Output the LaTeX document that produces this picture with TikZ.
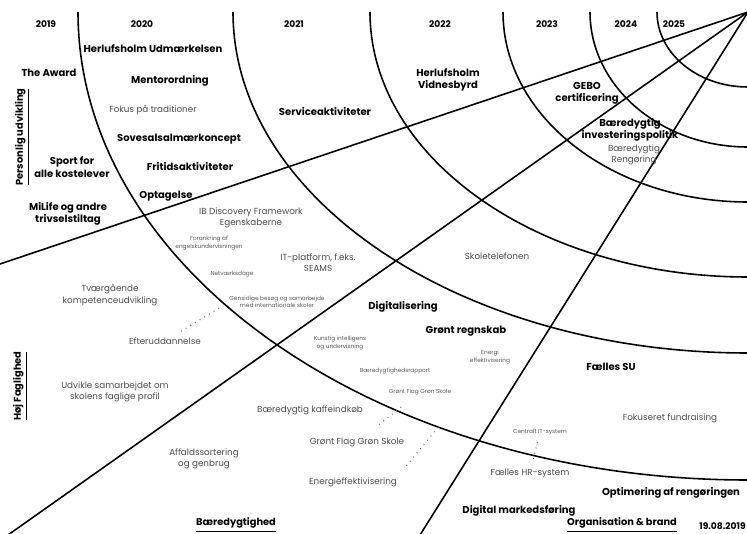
\documentclass[tikz,border=0pt]{standalone}
\usepackage{fontspec}
\setmainfont{Poppins}
\usetikzlibrary{calc}

\begin{document}
\begin{tikzpicture}[
  x=0.02cm, y=-0.02cm,
  every node/.style={inner sep=0pt, align=center},
  ring/.style={line width=0.9pt},
  spoke/.style={line width=0.9pt},
  year/.style={font=\fontsize{5.2}{6}\selectfont\bfseries},
  milestone/.style={font=\fontsize{5.7}{7}\selectfont\bfseries},
  idea/.style={font=\fontsize{5}{6.4}\selectfont, text=black!70},
  tiny/.style={font=\fontsize{3.3}{4.2}\selectfont, text=black!65},
  theme/.style={font=\fontsize{5.6}{6.4}\selectfont\bfseries},
  link/.style={dash pattern=on 0.5pt off 2.6pt, line width=0.6pt, black!60}
]
\useasboundingbox (0,0) rectangle (747,534);

% hub of the target (top right corner)
\coordinate (hub) at (748,12);

% yearly rings, outer to inner
\draw[ring] (78,12)  arc[start angle=180, end angle=90, x radius=670, y radius=468];
\draw[ring] (233,12) arc[start angle=180, end angle=90, x radius=515, y radius=341];
\draw[ring] (370,12) arc[start angle=180, end angle=90, x radius=378, y radius=265];
\draw[ring] (503,12) arc[start angle=180, end angle=90, x radius=245, y radius=190];
\draw[ring] (590,12) arc[start angle=180, end angle=90, x radius=158, y radius=135];
\draw[ring] (657,12) arc[start angle=180, end angle=90, x radius=91, y radius=75];

% sector borders
\coordinate (edgeP) at (0,264);
\coordinate (edgeH) at (8,535);
\coordinate (edgeB) at (420,535);
\draw[spoke] (hub) -- (edgeP);
\draw[spoke] (hub) -- (edgeH);
\draw[spoke] (hub) -- (edgeB);

% years
\node[year] (y19) at (46,24) {2019};
\node[year] (y20) at (142,24) {2020};
\node[year] (y21) at (294,24) {2021};
\node[year] (y22) at (440,24) {2022};
\node[year] (y23) at (547,24) {2023};
\node[year] (y24) at (626,24) {2024};
\node[year] (y25) at (674,24) {2025};

% Personlig udvikling
\node[milestone] (udm) at (153,49) {Herlufsholm Udmærkelsen};
\node[milestone] (award) at (49,73) {The Award};
\node[milestone] (mentor) at (170,81) {Mentorordning};
\node[idea] (trad) at (153,110) {Fokus på traditioner};
\node[milestone] (sovesal) at (179,139) {Sovesalsalmærkoncept};
\node[milestone] (sport) at (72,167) {Sport for\\alle kostelever};
\node[milestone] (fritid) at (190,167) {Fritidsaktiviteter};
\node[milestone] (optag) at (166,196) {Optagelse};
\node[milestone] (milife) at (68,214) {MiLife og andre\\trivselstiltag};
\node[milestone] (service) at (325,112) {Serviceaktiviteter};
\node[milestone] (vidnes) at (448,80) {Herlufsholm\\Vidnesbyrd};
\node[milestone] (gebo) at (587,93) {GEBO\\certificering};
\node[milestone] (invest) at (630,130) {Bæredygtig\\investeringspolitik};
\node[idea] (rengor) at (634,155) {Bæredygtig\\Rengøring};

% Høj faglighed
\node[idea] (discov) at (251,218) {IB Discovery Framework\\Egenskaberne};
\node[tiny] (forank) at (209,243) {Forankring af\\engelskundervisningen};
\node[idea] (itplat) at (318,263) {IT-platform, f.eks.\\SEAMS};
\node[tiny] (netv) at (232,274) {Netværksdage};
\node[tiny] (gensid) at (277,302) {Gensidige besøg og samarbejde\\med internationale skoler};
\node[idea] (salg) at (497,256) {Skoletelefonen};
\node[idea] (tvaer) at (110,295) {Tværgående\\kompetenceudvikling};
\node[idea] (efter) at (165,341) {Efteruddannelse};
\node[idea] (udvikle) at (115,392) {Udvikle samarbejdet om\\skolens faglige profil};
\node[milestone] (digital) at (403,307) {Digitalisering};
\node[tiny] (kunstig) at (340,343) {Kunstig intelligens\\og undervisning};

% Bæredygtighed
\node[milestone] (regnskab) at (466,331) {Grønt regnskab};
\node[tiny] (energi) at (490,357) {Energi\\effektivisering};
\node[tiny] (rapport) at (395,371) {Bæredygtighedsrapport};
\node[tiny] (flagA) at (420,392) {Grønt Flag Grøn Skole};
\node[idea] (kaffe) at (310,410) {Bæredygtig kaffeindkøb};
\node[idea] (flagB) at (357,442) {Grønt Flag Grøn Skole};
\node[idea] (affald) at (204,459) {Affaldssortering\\og genbrug};
\node[idea] (effekt) at (353,482) {Energieffektivisering};

% Organisation & brand
\node[milestone] (su) at (611,367) {Fælles SU};
\node[idea] (fond) at (670,418) {Fokuseret fundraising};
\node[tiny] (central) at (540,432) {Centralt IT-system};
\node[idea] (hr) at (530,473) {Fælles HR-system};
\node[milestone] (rengoring) at (671,493) {Optimering af rengøringen};
\node[milestone] (markt) at (519,511) {Digital markedsføring};

% sector titles
\node[theme, rotate=90] (tPers) at (22,137) {\underline{Personlig udvikling}};
\node[theme, rotate=90] (tFag) at (20,386) {\underline{Høj Faglighed}};
\node[theme] (tBaer) at (236,525) {\underline{Bæredygtighed}};
\node[theme] (tOrg) at (622,525) {\underline{Organisation \& brand}};
\node[year, anchor=east] (dato) at (746,526) {19.08.2019};

% dotted links
\draw[link] ($(efter)!0.25!(gensid.west)$) -- ($(efter)!0.85!(gensid.west)$);
\draw[link] ($(flagA)!0.3!(flagB)$) -- ($(flagA)!0.65!(flagB)$);
\draw[link] ($(effekt.north east)!0.1!(energi.south)$) -- ($(effekt.north east)!0.45!(energi.south)$);
\draw[link] ($(central)!0.25!(hr)$) -- ($(central)!0.75!(hr)$);
\end{tikzpicture}
\end{document}
